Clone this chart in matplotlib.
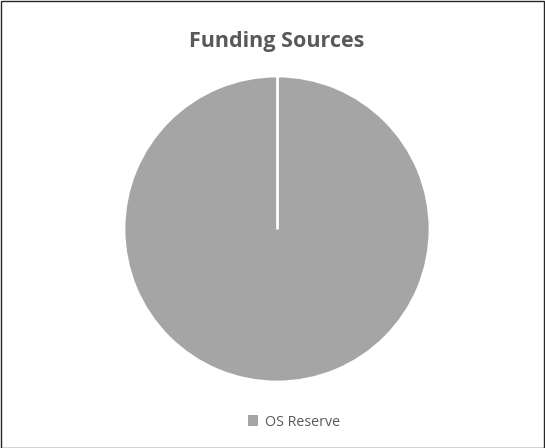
import numpy as np
import matplotlib
matplotlib.use("Agg")
import matplotlib.pyplot as plt

labels = ["OS Reserve"]
values = [100]
colors = ["#a5a5a5"]

W, H = 545, 448
fig = plt.figure(figsize=(W / 100, H / 100), dpi=100)
plt.rcParams['font.family'] = ['Open Sans', 'DejaVu Sans']

# outer chart border
fig.patches.append(plt.Rectangle((0.5 / W, 0.5 / H), 1 - 1.5 / W, 1 - 1.5 / H,
                                 transform=fig.transFigure, fill=False,
                                 edgecolor="#262626", linewidth=1.0))

ax = fig.add_axes([124 / W, (H - 382) / H, 306 / W, 306 / H])
wedges, _ = ax.pie(values, colors=colors, startangle=90, counterclock=False,
                   radius=1.0, wedgeprops=dict(edgecolor="white", linewidth=2))
# slice boundary line (full circle wedge draws none)
for w in wedges:
    cx, cy = w.center
    a = np.deg2rad(w.theta2)
    ax.plot([cx, cx + w.r * np.cos(a)], [cy, cy + w.r * np.sin(a)],
            color="white", linewidth=2, solid_capstyle="butt")
ax.set_xlim(-1.0, 1.0)
ax.set_ylim(-1.0, 1.0)
ax.set_aspect("equal")
ax.axis("off")

fig.text(277 / W, 1 - 41 / H, "Funding Sources", ha="center", va="center",
         fontsize=15.5, fontweight="bold", color="#595959")

leg = fig.legend(wedges, labels, loc="center", bbox_to_anchor=(294 / W, 1 - 422 / H),
                 frameon=False, fontsize=10.3, handlelength=0.7, handleheight=0.7,
                 handletextpad=0.5, labelcolor="#595959")
for h in leg.legend_handles:
    h.set_edgecolor("none")

fig.savefig("out.png", dpi=100)
